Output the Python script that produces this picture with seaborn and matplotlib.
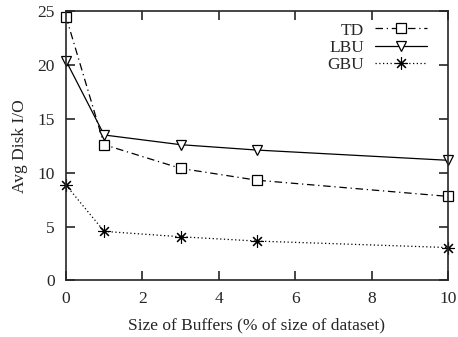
import matplotlib
matplotlib.use("Agg")
import matplotlib.pyplot as plt
import seaborn as sns
import pandas as pd

buffer_sizes = [0, 1, 3, 5, 10]
td_io = [24.5, 12.6, 10.4, 9.3, 7.8]
lbu_io = [20.4, 13.5, 12.6, 12.1, 11.15]
gbu_io = [8.85, 4.55, 4.05, 3.65, 3.05]

x_ticks = [0, 2, 4, 6, 8, 10]
y_ticks = [0, 5, 10, 15, 20, 25]

sns.set_style("ticks")
plt.rcParams["font.family"] = ["Liberation Serif", "DejaVu Serif"]
plt.rcParams["font.size"] = 12.5

df = pd.DataFrame({
    "size": buffer_sizes * 3,
    "io": td_io + lbu_io + gbu_io,
    "method": ["TD"] * 5 + ["LBU"] * 5 + ["GBU"] * 5,
})

fig = plt.figure(figsize=(4.58, 3.37), dpi=100)
ax = fig.add_axes([0.144, 0.168, 0.834, 0.799])

styles = {
    "TD": dict(ls=(0, (6, 3, 1, 3)), marker="s", ms=6.5, mfc="white", mew=0.9),
    "LBU": dict(ls="-", marker="v", ms=7, mfc="white", mew=0.9),
    "GBU": dict(ls=(0, (1, 2)), marker=(8, 2, 0), ms=9, mfc="black", mew=0.8),
}

for name in ["TD", "LBU", "GBU"]:
    sub = df[df["method"] == name]
    st = styles[name]
    sns.lineplot(data=sub, x="size", y="io", ax=ax, color="black", lw=0.9,
                 linestyle=st["ls"], marker=st["marker"], markersize=st["ms"],
                 markerfacecolor=st["mfc"], markeredgecolor="black",
                 markeredgewidth=st["mew"], label=name, clip_on=False)

ax.set_xlim(0, 10)
ax.set_ylim(0, 25)
ax.set_xticks(x_ticks)
ax.set_yticks(y_ticks)
ax.set_xlabel("Size of Buffers (% of size of dataset)", labelpad=7)
ax.set_ylabel("Avg Disk I/O", labelpad=7)
ax.tick_params(direction="in", length=6.5, width=1.2, top=True, right=True,
               labelsize=12.5, pad=8)
for sp in ax.spines.values():
    sp.set_visible(True)
    sp.set_linewidth(1.2)

leg = ax.legend(loc="upper right", bbox_to_anchor=(0.974, 1.0), frameon=False,
                markerfirst=False, handlelength=3.0, handletextpad=0.6,
                labelspacing=0.05, borderaxespad=0.35, borderpad=0.3)
for t in leg.get_texts():
    t.set_ha("right")
leg._legend_box.align = "right"

fig.savefig("out.png", dpi=100)
